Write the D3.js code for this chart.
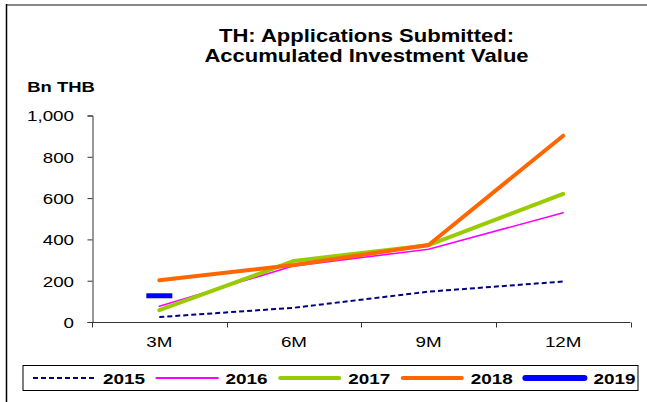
<!DOCTYPE html>
<html>
<head>
<meta charset="utf-8">
<script src="https://cdn.jsdelivr.net/npm/d3@7"></script>
<style>
  html, body { margin: 0; padding: 0; background: #fff; }
  svg { display: block; font-family: "Liberation Sans", Arial, sans-serif; }
</style>
</head>
<body>
<svg id="chart" width="647" height="402"></svg>
<script>
// Accumulated investment value of submitted applications (Bn THB)
const periods = ["3M", "6M", "9M", "12M"];
const yTicks = [0, 200, 400, 600, 800, 1000];
const v2015 = [24, 69, 147, 196];
const v2016 = [76, 272, 352, 529];
const v2017 = [57, 296, 372, 620];
const v2018 = [202, 276, 373, 902];
const v2019 = [127];

const series = [
  { name: "2015", values: v2015, color: "#000080", width: 2, dash: "5,3", lw: 2, cap: "butt" },
  { name: "2016", values: v2016, color: "#ff00ff", width: 1.6, dash: null, lw: 2, cap: "butt" },
  { name: "2017", values: v2017, color: "#99cc00", width: 4, dash: null, lw: 4, cap: "round" },
  { name: "2018", values: v2018, color: "#ff6600", width: 4, dash: null, lw: 4, cap: "round" },
  { name: "2019", values: v2019, color: "#0000ff", width: 5, dash: null, lw: 6, cap: "round" }
];

const SX = 1.2; // text is set slightly wide
const svg = d3.select("#chart");

function label(parent, x, y, txt, size, opts = {}) {
  return parent.append("text")
    .attr("transform", `translate(${x},${y}) scale(${opts.sx || SX},1)`)
    .attr("text-anchor", opts.anchor || "start")
    .attr("font-weight", opts.bold ? "bold" : "normal")
    .attr("font-size", size).attr("fill", "#000").text(txt);
}

// frame
svg.append("line").attr("x1", 6).attr("x2", 647).attr("y1", 5).attr("y2", 5)
  .attr("stroke", "#888").attr("stroke-width", 2);
svg.append("line").attr("x1", 6.5).attr("x2", 6.5).attr("y1", 4).attr("y2", 402)
  .attr("stroke", "#000").attr("stroke-width", 1.5);

// title
label(svg, 366.5, 41.7, "TH: Applications Submitted:", 18.5, { anchor: "middle", bold: true, sx: 1.19 });
label(svg, 366.5, 61.7, "Accumulated Investment Value", 18.5, { anchor: "middle", bold: true, sx: 1.19 });
label(svg, 27.3, 91.7, "Bn THB", 15.5, { bold: true, sx: 1.19 });

const x = d3.scaleBand().domain(periods).range([92, 630.5]);
const y = d3.scaleLinear().domain([0, 1000]).range([322, 115.5]);

// y axis (line and ticks from d3, labels set separately)
const yAxis = svg.append("g").attr("transform", "translate(92.5,0)")
  .call(d3.axisLeft(y).tickValues(yTicks).tickFormat("").tickSize(5));
yAxis.select(".domain").attr("stroke", "#333");
yAxis.selectAll(".tick line").attr("stroke", "#333");
const fmt = d3.format(",");
yTicks.forEach(t => label(svg, 74, y(t) + 5.8, fmt(t), 15.4, { anchor: "end", sx: 1.22 }));

// x axis with ticks on the band boundaries
const xAxisG = svg.append("g").attr("transform", "translate(0,322.5)");
xAxisG.append("line").attr("x1", 92).attr("x2", 630.5).attr("y1", 0).attr("y2", 0)
  .attr("stroke", "#333");
const bounds = periods.map(p => x(p)).concat([x.range()[1]]);
xAxisG.selectAll("line.tk").data(bounds).join("line").attr("class", "tk")
  .attr("x1", d => Math.round(d) + 0.5).attr("x2", d => Math.round(d) + 0.5)
  .attr("y1", 0).attr("y2", 5).attr("stroke", "#333");
periods.forEach(p => label(svg, x(p) + x.bandwidth() / 2, 346.5, p, 15.4, { anchor: "middle", sx: 1.22 }));

// series lines
const cx = (i) => x(periods[i]) + x.bandwidth() / 2;
const line = d3.line().x((d, i) => cx(i)).y(d => y(d));
series.forEach(s => {
  if (s.values.length > 1) {
    svg.append("path").datum(s.values).attr("d", line)
      .attr("fill", "none").attr("stroke", s.color).attr("stroke-width", s.width)
      .attr("stroke-dasharray", s.dash).attr("stroke-linejoin", "round")
      .attr("stroke-linecap", s.dash ? "butt" : "round");
  }
});
// single-point series drawn as a short horizontal dash
series.filter(s => s.values.length === 1).forEach(s => {
  svg.append("line").attr("x1", cx(0) - 13).attr("x2", cx(0) + 13)
    .attr("y1", y(s.values[0])).attr("y2", y(s.values[0]))
    .attr("stroke", s.color).attr("stroke-width", s.width);
});

// legend
svg.append("rect").attr("x", 23).attr("y", 365.5).attr("width", 615).attr("height", 25)
  .attr("fill", "#fff").attr("stroke", "#000").attr("stroke-width", 1);
series.forEach((s, i) => {
  const x0 = 33 + i * 122.6;
  svg.append("line").attr("x1", x0 + (s.cap === "round" ? 2 : 0)).attr("x2", x0 + (s.cap === "round" ? 61 : 63))
    .attr("y1", 378).attr("y2", 378)
    .attr("stroke", s.color).attr("stroke-width", s.lw)
    .attr("stroke-dasharray", s.dash).attr("stroke-linecap", s.cap);
  label(svg, x0 + 70, 384, s.name, 15.5, { bold: true, sx: 1.22 });
});
</script>
</body>
</html>
